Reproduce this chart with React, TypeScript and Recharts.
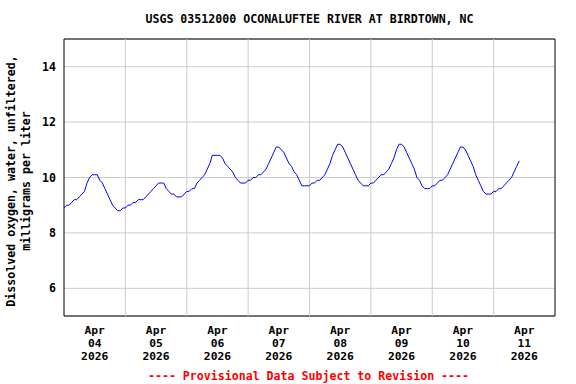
import {
  LineChart, Line, XAxis, YAxis, CartesianGrid, ReferenceLine, ReferenceArea,
} from 'recharts'

const TITLE = 'USGS 03512000 OCONALUFTEE RIVER AT BIRDTOWN, NC'
const Y_LABEL_1 = 'Dissolved oxygen, water, unfiltered,'
const Y_LABEL_2 = 'milligrams per liter'
const FOOTER = '---- Provisional Data Subject to Revision ----'

const MONTH = 'Apr'
const YEAR = '2026'
const DAY_LABELS = ['04', '05', '06', '07', '08', '09', '10', '11']
const Y_TICKS = [6, 8, 10, 12, 14]

// hourly dissolved oxygen, mg/L
const apr04 = [8.9, 9.0, 9.0, 9.1, 9.2, 9.2, 9.3, 9.4, 9.5, 9.8, 10.0, 10.1, 10.1, 10.1, 9.9, 9.8, 9.6, 9.4, 9.2, 9.0, 8.9, 8.8, 8.8, 8.9]
const apr05 = [8.9, 9.0, 9.0, 9.1, 9.1, 9.2, 9.2, 9.2, 9.3, 9.4, 9.5, 9.6, 9.7, 9.8, 9.8, 9.8, 9.6, 9.5, 9.4, 9.4, 9.3, 9.3, 9.3, 9.4]
const apr06 = [9.5, 9.5, 9.6, 9.6, 9.8, 9.9, 10.0, 10.1, 10.3, 10.5, 10.8, 10.8, 10.8, 10.8, 10.7, 10.5, 10.4, 10.3, 10.2, 10.0, 9.9, 9.8, 9.8, 9.8]
const apr07 = [9.9, 9.9, 10.0, 10.0, 10.1, 10.1, 10.2, 10.3, 10.5, 10.7, 10.9, 11.1, 11.1, 11.0, 10.9, 10.7, 10.5, 10.4, 10.2, 10.1, 9.9, 9.7, 9.7, 9.7]
const apr08 = [9.7, 9.8, 9.8, 9.9, 9.9, 10.0, 10.1, 10.3, 10.5, 10.8, 11.0, 11.2, 11.2, 11.1, 10.9, 10.7, 10.5, 10.3, 10.1, 9.9, 9.8, 9.7, 9.7, 9.7]
const apr09 = [9.8, 9.8, 9.9, 10.0, 10.1, 10.1, 10.2, 10.3, 10.5, 10.7, 11.0, 11.2, 11.2, 11.1, 10.9, 10.7, 10.5, 10.3, 10.0, 9.9, 9.7, 9.6, 9.6, 9.6]
const apr10 = [9.7, 9.7, 9.8, 9.9, 9.9, 10.0, 10.1, 10.3, 10.5, 10.7, 10.9, 11.1, 11.1, 11.0, 10.8, 10.6, 10.4, 10.1, 9.9, 9.7, 9.5, 9.4, 9.4, 9.4]
const apr11 = [9.5, 9.5, 9.6, 9.6, 9.7, 9.8, 9.9, 10.0, 10.2, 10.4, 10.6]

const data = [...apr04, ...apr05, ...apr06, ...apr07, ...apr08, ...apr09, ...apr10, ...apr11]
  .map((v, i) => ({ t: i, v }))

const HOURS = DAY_LABELS.length * 24
const noonTicks = DAY_LABELS.map((_, i) => i * 24 + 12)
const midnights = DAY_LABELS.slice(1).map((_, i) => (i + 1) * 24)

const FONT = '"DejaVu Sans Mono", "Liberation Mono", monospace'
const FS = 11.6

function DayTick({ x, y, payload }: any) {
  const i = Math.round((payload.value - 12) / 24)
  return (
    <text x={x} y={y} textAnchor="middle" fontFamily={FONT} fontWeight="bold" fontSize={11.3} fill="#000">
      <tspan x={x} dy={10}>{MONTH}</tspan>
      <tspan x={x} dy={13}>{DAY_LABELS[i]}</tspan>
      <tspan x={x} dy={13}>{YEAR}</tspan>
    </text>
  )
}

function YLabel() {
  const cy = 181
  return (
    <g fontFamily={FONT} fontWeight="bold" fontSize={FS} fill="#000">
      <text x={15} y={cy} textAnchor="middle" transform={`rotate(-90 15 ${cy})`}>{Y_LABEL_1}</text>
      <text x={30} y={cy} textAnchor="middle" transform={`rotate(-90 30 ${cy})`}>{Y_LABEL_2}</text>
    </g>
  )
}

export default function App() {
  return (
    <div style={{ position: 'absolute', left: 0, top: 0, width: 576, height: 384, background: '#fff' }}>
      <div style={{
        position: 'absolute', left: 0, width: 619, top: 11, textAlign: 'center',
        fontFamily: FONT, fontWeight: 'bold', fontSize: FS, lineHeight: '16px', color: '#000',
      }}>{TITLE}</div>
      <LineChart width={576} height={384} data={data} margin={{ top: 39, right: 21, bottom: 0, left: 0 }}>
        <CartesianGrid vertical={false} stroke="#cccccc" />
        {midnights.map((m) => (
          <ReferenceLine key={m} x={m} stroke="#cccccc" />
        ))}
        <XAxis
          type="number"
          dataKey="t"
          domain={[0, HOURS]}
          ticks={noonTicks}
          interval={0}
          tick={<DayTick />}
          tickLine={false}
          axisLine={false}
          height={68}
        />
        <YAxis
          domain={[5, 15]}
          ticks={Y_TICKS}
          interval={0}
          width={64}
          tickLine={false}
          axisLine={false}
          tickSize={6}
          tickMargin={2}
          tick={{ fontFamily: FONT, fontWeight: 'bold', fontSize: FS, fill: '#000' }}
          label={{ content: () => <YLabel /> }}
        />
        <Line
          type="linear"
          dataKey="v"
          stroke="#0000ff"
          strokeWidth={1}
          dot={false}
          isAnimationActive={false}
        />
        <ReferenceArea x1={0} x2={HOURS} y1={5} y2={15} fill="none" stroke="#000" strokeWidth={1} />
      </LineChart>
      <div style={{
        position: 'absolute', left: 0, width: 617, top: 368, textAlign: 'center',
        fontFamily: FONT, fontWeight: 'bold', fontSize: FS, lineHeight: '16px', color: '#ff0000',
      }}>{FOOTER}</div>
    </div>
  )
}
